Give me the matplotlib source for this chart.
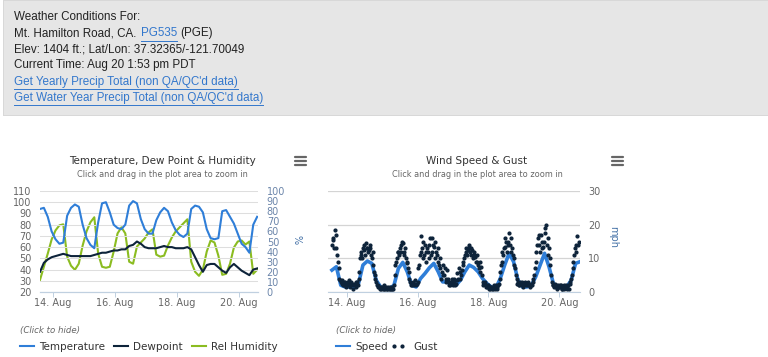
import matplotlib
matplotlib.use("Agg")
import matplotlib.pyplot as plt
import matplotlib.dates as mdates
from matplotlib.lines import Line2D
from matplotlib import patches
import pandas as pd

W, H = 768, 357  # figure size in pixels

# --- data ---
times = pd.date_range("2024-08-13 14:00", periods=57, freq="3h")
gust_times = pd.date_range("2024-08-13 14:00", periods=168, freq="h")
gust_times_b = pd.date_range("2024-08-13 14:30", periods=167, freq="h")

temperature = [94, 95, 87, 74, 67, 63, 64, 88, 95, 98, 96, 80, 68, 62, 59, 82, 99, 100, 91,
               80, 77, 76, 80, 97, 101, 99, 85, 76, 72, 72, 84, 91, 95, 92, 82, 75, 71, 69,
               72, 94, 97, 96, 91, 76, 68, 67, 68, 92, 93, 87, 81, 72, 63, 60, 55, 80, 87]
dewpoint = [38, 46, 49, 51, 52, 53, 54, 53, 52, 52, 52, 52, 52, 52, 53, 54, 55, 55, 56,
            57, 57, 58, 58, 61, 62, 65, 63, 60, 59, 59, 59, 60, 61, 60, 60, 59, 59, 59,
            60, 58, 51, 44, 38, 44, 45, 45, 42, 39, 37, 42, 45, 42, 39, 37, 35, 40, 41]
humidity = [12, 25, 38, 52, 61, 66, 67, 35, 26, 22, 28, 46, 60, 69, 74, 38, 25, 24, 25,
            40, 58, 64, 58, 30, 28, 45, 49, 53, 59, 62, 37, 35, 36, 46, 54, 60, 64, 68,
            72, 30, 20, 16, 22, 40, 51, 49, 36, 17, 18, 28, 44, 50, 51, 47, 50, 18, 22]

speed = [6.5, 7.5, 2, 1.5, 1.5, 1.5, 2.5, 8, 9.2, 8.5, 3.5, 1.5, 1, 1, 2, 7, 8.8, 6, 2,
         1.5, 4, 5.5, 7.2, 8.5, 6, 3, 3, 2, 2, 3.5, 6, 8, 7.3, 6, 4, 2.5, 1.5, 1.2,
         4, 8, 11.5, 9, 3.5, 1.5, 1.5, 2, 4.5, 8, 11.5, 7.5, 2.5, 1.5, 1.5, 1.5, 3.5, 8.5, 9]
gust = [14, 16, 18.5, 13, 9, 4, 3, 3.5, 2, 3, 2.5, 3, 1.5, 3, 2, 2.5, 1.5, 3, 4, 10,
        12, 13, 12.5, 14.5, 13, 12.5, 13, 10, 8, 5, 3, 2, 1.5, 1, 1.5, 2, 1, 1, 1.5, 1,
        1, 1.5, 2, 8, 10, 12, 13, 12, 14.5, 11, 10, 8.5, 6, 3, 2, 3, 2.5, 2, 3, 8,
        16.5, 13, 10, 14, 9, 12, 14, 11, 16, 13.5, 15, 11, 9, 7, 4, 8, 5, 4, 6.5, 3,
        2, 4, 2, 3, 2.5, 5.5, 7, 4, 6.5, 9, 11, 12, 12.5, 13.5, 11, 12.5, 11, 10.5, 9, 8,
        6, 7.5, 3, 2.5, 2, 1.5, 2, 1, 1.5, 1, 1.5, 2, 1, 2.5, 6, 9, 11, 13.5, 15, 14,
        17.5, 16, 13, 10, 7, 4, 3, 2, 2.5, 3, 2.5, 3, 2, 2.5, 1.5, 2, 3, 5, 9, 14,
        17, 12, 15, 13.5, 17.5, 20, 16, 13, 8, 3, 2, 2.5, 1.5, 2, 1.5, 2, 1, 2, 1.5, 1,
        2, 2.5, 4, 7, 11, 14, 16.5, 15]
gust_b = [15.5, 13, 17, 11, 7, 3.5, 2.5, 2, 3, 1.5,
          2, 3.5, 2, 2.5, 1, 2, 3, 2, 6, 11,
          10, 14, 11, 13, 12, 14, 11, 12, 6, 4,
          2, 1.5, 1, 1.5, 1, 1, 1.5, 1, 1, 1.5,
          1, 1, 5, 9, 12, 11, 14, 15, 12, 13,
          9, 7, 4, 2, 2.5, 2, 3.5, 2.5, 7, 11,
          12, 15, 11, 12, 13, 10, 16, 12, 14, 10,
          12, 13, 8, 10, 6, 5, 7, 3, 4, 2,
          3, 2.5, 4, 2, 3.5, 4, 6, 5, 8, 10,
          13, 11, 14, 12, 13, 10, 12, 9, 11, 7,
          9, 5, 2, 3, 1.5, 2, 1, 1.5, 1, 2,
          1, 1.5, 2, 4, 8, 12, 13, 16, 12, 15,
          14, 12, 11, 8, 5, 2.5, 2, 3, 2, 1.5,
          2.5, 2, 3, 2, 2.5, 2, 4, 7, 12, 16,
          14, 17, 13, 15, 19, 14, 11, 10, 5, 2,
          1.5, 2, 1, 1.5, 2, 1, 1.5, 1, 2, 1.5,
          1, 3, 5, 9, 13, 12, 14]

tick_days = pd.to_datetime(["2024-08-14", "2024-08-16", "2024-08-18", "2024-08-20"])

header_lines = ["Weather Conditions For:",
                "Mt. Hamilton Road, CA.",
                "Elev: 1404 ft.; Lat/Lon: 37.32365/-121.70049",
                "Current Time: Aug 20 1:53 pm PDT",
                "Get Yearly Precip Total (non QA/QC'd data)",
                "Get Water Year Precip Total (non QA/QC'd data)"]

BLUE = "#2f7ed8"
NAVY = "#0d233a"
GREEN = "#8bbc21"
LINK = "#3377cc"
LABEL = "#666666"
AXIS = "#c0d0e0"
GRID = "#dedede"

fig = plt.figure(figsize=(W / 100, H / 100), dpi=100)
fig.patch.set_facecolor("white")


def box(x0, y0, x1, y1):
    return [x0 / W, 1 - y1 / H, (x1 - x0) / W, (y1 - y0) / H]


def ftext(x, y, s, **kw):
    return fig.text(x / W, 1 - y / H, s, **kw)


def fline(xs, ys, **kw):
    fig.add_artist(Line2D([x / W for x in xs], [1 - y / H for y in ys],
                          transform=fig.transFigure, **kw))


def underline(t):
    fig.canvas.draw()
    bb = t.get_window_extent()
    y = H - bb.y0 + 1.5
    fline([bb.x0, bb.x1], [y, y], color=t.get_color(), lw=0.7)


# --- header box ---
fig.add_artist(patches.Rectangle((3 / W, 1 - 116 / H), 1, 116 / H, transform=fig.transFigure,
                                 facecolor="#d4d4d4", edgecolor="none"))
fig.add_artist(patches.Rectangle((3 / W, 1 - 115 / H), 1, 115 / H, transform=fig.transFigure,
                                 facecolor="#e6e6e6", edgecolor="#d8d8d8", lw=0.7))

hfont = dict(family="Liberation Sans", fontsize=8.4, va="baseline", ha="left")
for i, line in enumerate(header_lines):
    yb = 20 + 16.15 * i
    color = LINK if i >= 4 else "#222222"
    t = ftext(14, yb, line, color=color, **hfont)
    if i >= 4:
        underline(t)
    if i == 1:
        fig.canvas.draw()
        x_end = t.get_window_extent().x1
        t2 = ftext(x_end + 4.5, yb, "PG535", color=LINK, **hfont)
        underline(t2)
        x_end = t2.get_window_extent().x1
        ftext(x_end + 3.5, yb, "(PGE)", color="#222222", **hfont)


def style_time_axis(ax):
    ax.set_xticks(tick_days)
    ax.xaxis.set_major_formatter(mdates.DateFormatter("%d. %b"))
    ax.tick_params(axis="x", length=3.6, width=0.7, color=AXIS, labelsize=7,
                   labelcolor=LABEL, pad=0.5)
    for s in ["top", "left", "right"]:
        ax.spines[s].set_visible(False)
    ax.spines["bottom"].set_color(AXIS)
    ax.spines["bottom"].set_linewidth(0.8)
    ax.set_facecolor("none")


def hamburger(xc, yc):
    for dy in (-4, 0, 4):
        fline([xc - 5.5, xc + 5.5], [yc + dy, yc + dy], color="#666666", lw=1.6,
              solid_capstyle="round")


# --- temperature chart ---
ax1 = fig.add_axes(box(40, 191, 258, 292))
ax2 = ax1.twinx()
ax2.plot(times, humidity, color=GREEN, lw=1.5, zorder=2)
ax1.plot(times, temperature, color=BLUE, lw=1.5, zorder=3)
ax1.plot(times, dewpoint, color=NAVY, lw=1.5, zorder=3)
ax1.set_zorder(ax2.get_zorder() + 1)
ax1.set_ylim(20, 110)
ax1.set_yticks(range(20, 111, 10))
ax2.set_ylim(0, 100)
ax2.set_yticks(range(0, 101, 10))
ax1.set_xlim(times[0], pd.Timestamp("2024-08-20 14:40"))
style_time_axis(ax1)
style_time_axis(ax2)
ax1.grid(axis="y", color=GRID, lw=0.75)
ax1.set_axisbelow(True)
ax1.tick_params(axis="y", length=0, labelsize=7, labelcolor=LABEL, pad=6)
ax2.tick_params(axis="y", length=0, labelsize=7, labelcolor="#6b85aa", pad=6.3)
ftext(297, 240, "%", color="#4572a7", fontsize=7, rotation=270, ha="center", va="center")

ftext(162, 161, "Temperature, Dew Point & Humidity", color="#333333", fontsize=7.5,
      ha="center", va="center")
ftext(162, 174, "Click and drag in the plot area to zoom in", color=LABEL, fontsize=5.9,
      ha="center", va="center")
hamburger(300, 161)

# --- wind chart ---
ax3 = fig.add_axes(box(328, 191, 580, 292))
ax3.plot(times, speed, color=BLUE, lw=2.6, zorder=2)
ax3.plot(gust_times, gust, ls="none", marker="o", ms=2.0, color=NAVY, zorder=3)
ax3.plot(gust_times_b, gust_b, ls="none", marker="o", ms=2.0, color=NAVY, zorder=3)
ax3.set_ylim(0, 30)
ax3.set_yticks([0, 10, 20, 30])
ax3.set_xlim(pd.Timestamp("2024-08-13 11:20"), pd.Timestamp("2024-08-20 14:00"))
style_time_axis(ax3)
ax3.yaxis.tick_right()
ax3.grid(axis="y", color="#d4d4d4", lw=0.9)
ax3.set_axisbelow(True)
ax3.tick_params(axis="y", length=0, labelsize=7, labelcolor=LABEL, pad=6)
ftext(613, 237, "mph", color="#4572a7", fontsize=7, rotation=270, ha="center", va="center")

ftext(477, 161, "Wind Speed & Gust", color="#333333", fontsize=7.5, ha="center", va="center")
ftext(477, 174, "Click and drag in the plot area to zoom in", color=LABEL, fontsize=5.9,
      ha="center", va="center")
hamburger(617, 161)

# --- legends ---
lfont = dict(fontsize=7.5, color="#333333", ha="left", va="center")
hide = dict(fontsize=6.2, color="#666666", style="italic", ha="left", va="center")
ftext(20, 330, "(Click to hide)", **hide)
ftext(336, 330, "(Click to hide)", **hide)

for x0, color, label in [(20, BLUE, "Temperature"), (114, NAVY, "Dewpoint"),
                         (191.5, GREEN, "Rel Humidity"), (336, BLUE, "Speed")]:
    fline([x0, x0 + 14], [346, 346], color=color, lw=1.5)
    ftext(x0 + 19.5, 346.5, label, **lfont)
fline([394, 401.7], [346, 346], ls="none", marker="o", ms=2.0, color=NAVY)
ftext(413, 346.5, "Gust", **lfont)

fig.savefig("out.png", dpi=100)
